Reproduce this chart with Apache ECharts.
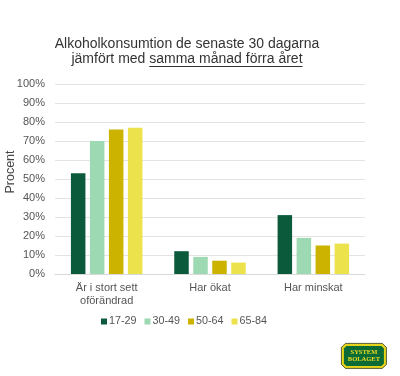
<!DOCTYPE html>
<html>
<head>
<meta charset="utf-8">
<script src="https://cdn.jsdelivr.net/npm/echarts@6/dist/echarts.min.js"></script>
<style>
  html, body { margin: 0; padding: 0; background: #fff; }
  #chart { width: 400px; height: 376px; }
</style>
</head>
<body>
<div id="chart"></div>
<script>
  // kategorier och åldersgrupper
  var categories = ['Är i stort sett\noförändrad', 'Har ökat', 'Har minskat']
  var groups = ['17-29', '30-49', '50-64', '65-84']
  var colors = ['#0b5a3b', '#9dd9b3', '#cbb300', '#ece24c']

  // andel i procent per åldersgrupp
  var v1729 = [53, 12, 31]
  var v3049 = [70, 9, 19]
  var v5064 = [76, 7, 15]
  var v6584 = [77, 6, 16]
  var values = [v1729, v3049, v5064, v6584]

  var titleLine1 = 'Alkoholkonsumtion de senaste 30 dagarna'
  var titleLead = 'jämfört med '
  var titleUnder = 'samma månad förra året'

  var FONT = '"Liberation Sans", Arial, sans-serif'
  var titleSize = 14
  var titleLH = 15
  var titleTop = 37
  var titleCenter = 187

  // mät texten så att understrykningen hamnar under rätt ord
  var ctx = document.createElement('canvas').getContext('2d')
  ctx.font = titleSize + 'px ' + FONT
  var leadW = ctx.measureText(titleLead).width
  var underW = ctx.measureText(titleUnder).width
  var line2Left = titleCenter - (leadW + underW) / 2
  var underY = Math.round(titleTop + titleLH * 1.5 + titleSize * 0.36 + 1) + 0.5

  var chart = echarts.init(document.getElementById('chart'))

  var series = groups.map(function (g, i) {
    return {
      name: g,
      type: 'bar',
      data: values[i],
      barWidth: 14.5,
      barGap: '31%',
      itemStyle: { color: colors[i] },
      emphasis: { disabled: true }
    }
  })

  chart.setOption({
    animation: false,
    textStyle: { fontFamily: FONT },
    title: {
      text: titleLine1 + '\n' + titleLead + titleUnder,
      left: titleCenter,
      textAlign: 'center',
      top: titleTop,
      padding: 0,
      textStyle: {
        fontFamily: FONT,
        fontSize: titleSize,
        fontWeight: 'normal',
        color: '#333',
        lineHeight: titleLH
      }
    },
    legend: {
      data: groups,
      left: 101,
      top: 316,
      padding: 0,
      itemWidth: 6,
      itemHeight: 6,
      itemGap: 8,
      icon: 'rect',
      textStyle: { fontSize: 10.75, color: '#555', padding: [0, 0, 0, -3] }
    },
    grid: {
      left: 55,
      right: 35,
      top: 84,
      bottom: 102,
      containLabel: false,
      outerBoundsMode: 'none'
    },
    xAxis: {
      type: 'category',
      data: categories,
      axisTick: { show: false },
      axisLine: { lineStyle: { color: '#d9d9d9' } },
      axisLabel: {
        color: '#555',
        fontSize: 11,
        lineHeight: 13,
        margin: 7
      }
    },
    yAxis: {
      type: 'value',
      min: 0,
      max: 100,
      interval: 10,
      name: 'Procent',
      nameLocation: 'middle',
      nameGap: 38,
      nameMoveOverlap: false,
      nameTextStyle: { fontSize: 12.5, color: '#444', padding: [0, 0, 0, 14] },
      axisLabel: { formatter: '{value}%', fontSize: 11, color: '#555', margin: 10 },
      axisLine: { show: false },
      axisTick: { show: false },
      splitLine: { lineStyle: { color: '#e3e3e3' } }
    },
    graphic: [
      // understrykning i rubriken
      {
        type: 'line',
        shape: { x1: line2Left + leadW, y1: underY, x2: line2Left + leadW + underW, y2: underY },
        style: { stroke: '#333', lineWidth: 1 }
      },
      // logotyp
      {
        type: 'group',
        left: 341,
        top: 343,
        children: [
          {
            type: 'polygon',
            shape: { points: [[4, 0], [41, 0], [45, 4], [45, 21], [41, 25], [4, 25], [0, 21], [0, 4]] },
            style: { fill: '#e6d41a', stroke: '#2a3a20', lineWidth: 0.8 }
          },
          {
            type: 'polygon',
            shape: { points: [[5, 2.5], [40, 2.5], [42.5, 5], [42.5, 20], [40, 22.5], [5, 22.5], [2.5, 20], [2.5, 5]] },
            style: { fill: '#0b6b37' }
          },
          {
            type: 'text',
            x: 22.5,
            y: 12.5,
            style: {
              text: 'SYSTEM\nBOLAGET',
              fill: '#f0dc1e',
              font: 'bold 6.5px "Liberation Serif", serif',
              align: 'center',
              verticalAlign: 'middle',
              lineHeight: 7.5
            }
          }
        ]
      }
    ],
    series: series
  })
</script>
</body>
</html>
